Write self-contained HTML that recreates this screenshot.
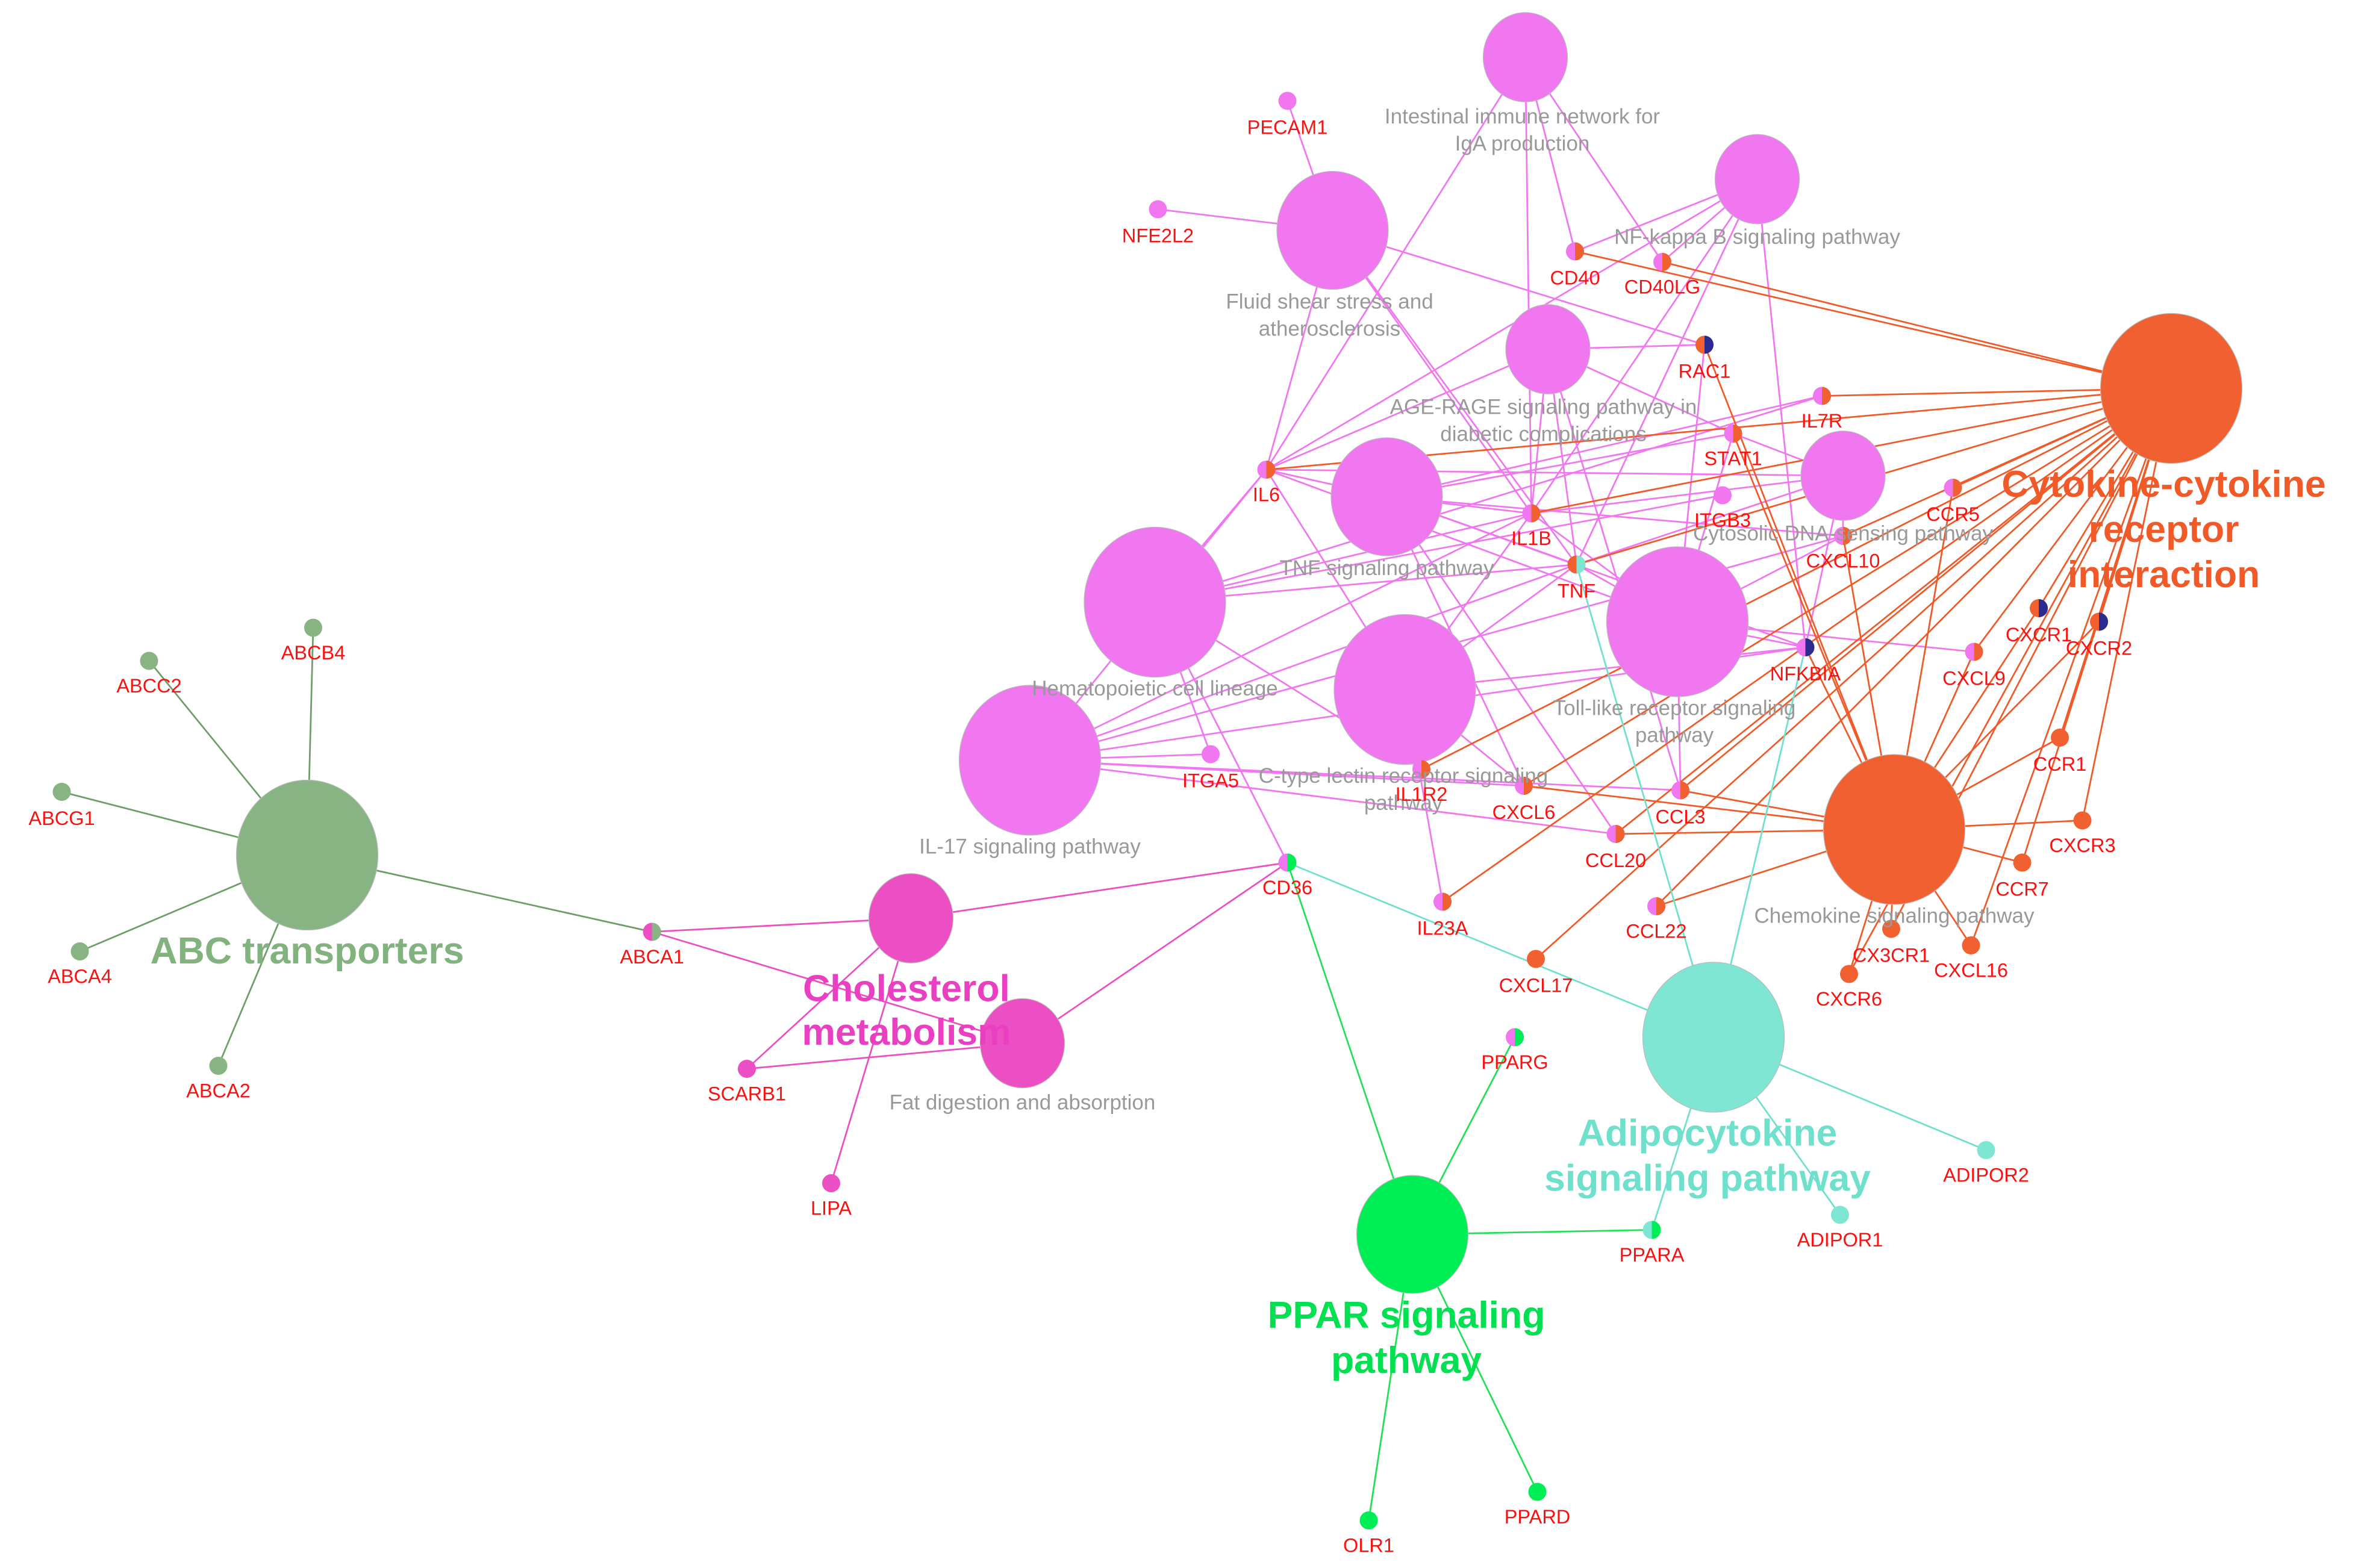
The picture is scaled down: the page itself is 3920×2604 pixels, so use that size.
<!DOCTYPE html>
<html><head><meta charset="utf-8">
<style>
html,body{margin:0;padding:0;background:#fff;}
svg{display:block;}
.g{font-family:"Liberation Sans",sans-serif;font-size:13px;fill:#ff1010;text-anchor:middle;}
.p{font-family:"Liberation Sans",sans-serif;font-size:14px;fill:#999;text-anchor:middle;}
.b{font-family:"Liberation Sans",sans-serif;font-size:25px;font-weight:bold;text-anchor:middle;}
</style></head>
<body>
<svg id="s" width="3920" height="2604" viewBox="0 0 1568 1041.6" xmlns="http://www.w3.org/2000/svg">
<g id="edges" fill="none" stroke-width="1.1"></g>
<g id="nodes"></g>
<g id="labels">
<text class="p" x="1011" y="82">Intestinal immune network for</text>
<text class="p" x="1011" y="100">IgA production</text>
<text class="p" x="1167" y="162">NF-kappa B signaling pathway</text>
<text class="p" x="883" y="205">Fluid shear stress and</text>
<text class="p" x="883" y="223">atherosclerosis</text>
<text class="p" x="1025" y="275">AGE-RAGE signaling pathway in</text>
<text class="p" x="1025" y="293">diabetic complications</text>
<text class="p" x="1224" y="359">Cytosolic DNA-sensing pathway</text>
<text class="p" x="921" y="382">TNF signaling pathway</text>
<text class="p" x="767" y="462">Hematopoietic cell lineage</text>
<text class="p" x="1112" y="475">Toll-like receptor signaling</text>
<text class="p" x="1112" y="493">pathway</text>
<text class="p" x="932" y="520">C-type lectin receptor signaling</text>
<text class="p" x="932" y="538">pathway</text>
<text class="p" x="684" y="567">IL-17 signaling pathway</text>
<text class="p" x="1258" y="613">Chemokine signaling pathway</text>
<text class="p" x="679" y="737">Fat digestion and absorption</text>
<text class="b" x="1437" y="330" fill="#f05a28">Cytokine-cytokine</text>
<text class="b" x="1437" y="360" fill="#f05a28">receptor</text>
<text class="b" x="1437" y="390" fill="#f05a28">interaction</text>
<text class="b" x="204" y="640" fill="#82b27e">ABC transporters</text>
<text class="b" x="602" y="665" fill="#e840c0">Cholesterol</text>
<text class="b" x="602" y="694" fill="#e840c0">metabolism</text>
<text class="b" x="1134" y="761" fill="#6fe0cc">Adipocytokine</text>
<text class="b" x="1134" y="791" fill="#6fe0cc">signaling pathway</text>
<text class="b" x="934" y="882" fill="#00e050">PPAR signaling</text>
<text class="b" x="934" y="912" fill="#00e050">pathway</text>
<text class="g" x="855" y="89">PECAM1</text>
<text class="g" x="769" y="161">NFE2L2</text>
<text class="g" x="1046" y="189">CD40</text>
<text class="g" x="1104" y="195">CD40LG</text>
<text class="g" x="1132" y="251">RAC1</text>
<text class="g" x="1210" y="284">IL7R</text>
<text class="g" x="1151" y="309">STAT1</text>
<text class="g" x="841" y="333">IL6</text>
<text class="g" x="1144" y="350">ITGB3</text>
<text class="g" x="1017" y="362">IL1B</text>
<text class="g" x="1297" y="346">CCR5</text>
<text class="g" x="1224" y="377">CXCL10</text>
<text class="g" x="1047" y="397">TNF</text>
<text class="g" x="1354" y="426">CXCR1</text>
<text class="g" x="1394" y="435">CXCR2</text>
<text class="g" x="1199" y="452">NFKBIA</text>
<text class="g" x="1311" y="455">CXCL9</text>
<text class="g" x="804" y="523">ITGA5</text>
<text class="g" x="944" y="532">IL1R2</text>
<text class="g" x="1012" y="544">CXCL6</text>
<text class="g" x="1116" y="547">CCL3</text>
<text class="g" x="1073" y="576">CCL20</text>
<text class="g" x="1368" y="512">CCR1</text>
<text class="g" x="1383" y="566">CXCR3</text>
<text class="g" x="1343" y="595">CCR7</text>
<text class="g" x="855" y="594">CD36</text>
<text class="g" x="958" y="621">IL23A</text>
<text class="g" x="1100" y="623">CCL22</text>
<text class="g" x="1020" y="659">CXCL17</text>
<text class="g" x="1256" y="639">CX3CR1</text>
<text class="g" x="1309" y="649">CXCL16</text>
<text class="g" x="1228" y="668">CXCR6</text>
<text class="g" x="433" y="640">ABCA1</text>
<text class="g" x="496" y="731">SCARB1</text>
<text class="g" x="552" y="807">LIPA</text>
<text class="g" x="1006" y="710">PPARG</text>
<text class="g" x="1097" y="838">PPARA</text>
<text class="g" x="1319" y="785">ADIPOR2</text>
<text class="g" x="1222" y="828">ADIPOR1</text>
<text class="g" x="1021" y="1012">PPARD</text>
<text class="g" x="909" y="1031">OLR1</text>
<text class="g" x="208" y="438">ABCB4</text>
<text class="g" x="99" y="460">ABCC2</text>
<text class="g" x="41" y="548">ABCG1</text>
<text class="g" x="53" y="653">ABCA4</text>
<text class="g" x="145" y="729">ABCA2</text>
</g>
</svg>
<script>
var P={IgA:[1013,38,28],NFK:[1167,119,28],FSS:[885,153,37],AGE:[1028,232,28],TNFp:[921,330,37],CYT:[1224,316,28],HEM:[767,400,47],TOLL:[1114,413,47],CTL:[933,458,47],IL17:[684,505,47],CCR:[1442,258,47],CHE:[1258,551,47],ABC:[204,568,47],CHO:[605,610,28],FAT:[679,693,28],ADI:[1138,689,47],PPAR:[938,820,37]};
var PC={IgA:'#f077f0',NFK:'#f077f0',FSS:'#f077f0',AGE:'#f077f0',TNFp:'#f077f0',CYT:'#f077f0',HEM:'#f077f0',TOLL:'#f077f0',CTL:'#f077f0',IL17:'#f077f0',CCR:'#f06030',CHE:'#f06030',ABC:'#88b383',CHO:'#ec4fc4',FAT:'#ec4fc4',ADI:'#7fe6d4',PPAR:'#00ee55'};
var G={PECAM1:[855,67],NFE2L2:[769,139],CD40:[1046,167],CD40LG:[1104,174],RAC1:[1132,229],IL7R:[1210,263],STAT1:[1151,288],IL6:[841,312],ITGB3:[1144,329],IL1B:[1017,341],CCR5:[1297,324],CXCL10:[1224,356],TNF:[1047,375],CXCR1:[1354,404],CXCR2:[1394,413],NFKBIA:[1199,430],CXCL9:[1311,433],ITGA5:[804,501],IL1R2:[944,511],CXCL6:[1012,522],CCL3:[1116,525],CCL20:[1073,554],CCR1:[1368,490],CXCR3:[1383,545],CCR7:[1343,573],CD36:[855,573],IL23A:[958,599],CCL22:[1100,602],CXCL17:[1020,637],CX3CR1:[1256,617],CXCL16:[1309,628],CXCR6:[1228,647],ABCA1:[433,619],SCARB1:[496,710],LIPA:[552,786],PPARG:[1006,689],PPARA:[1097,817],ADIPOR2:[1319,764],ADIPOR1:[1222,807],PPARD:[1021,991],OLR1:[909,1010],ABCB4:[208,417],ABCC2:[99,439],ABCG1:[41,526],ABCA4:[53,632],ABCA2:[145,708]};
var E={
IgA:['CD40','CD40LG','IL6','CXCR6'.slice(0,0)||'IL1B'],
NFK:['CD40','CD40LG','IL1B','TNF','NFKBIA','IL6'],
FSS:['PECAM1','NFE2L2','RAC1','IL1B','TNF','IL6'],
AGE:['IL6','IL1B','TNF','RAC1','STAT1','CCL3'],
TNFp:['IL6','IL1B','TNF','NFKBIA','CXCL10','CCL20','CXCL6','IL7R','STAT1'],
CYT:['IL6','IL1B','TNF','NFKBIA','CXCL10','STAT1'],
HEM:['IL6','IL1B','TNF','ITGB3','ITGA5','IL1R2','IL7R','CD36'],
TOLL:['IL6','IL1B','TNF','NFKBIA','CXCL10','CXCL9','CCL3','RAC1','STAT1'],
CTL:['IL6','IL1B','TNF','NFKBIA','IL23A','CXCL6'],
IL17:['IL6','IL1B','TNF','NFKBIA','CXCL10','CXCL6','CCL20','ITGA5','CCL3'],
CCR:['CD40','CD40LG','IL7R','IL6','IL1B','TNF','CCR5','CXCL10','CXCR1','CXCR2','CXCL9','IL1R2','CXCL6','CCL3','CCL20','CCR1','CXCR3','CCR7','IL23A','CCL22','CXCL17','CX3CR1','CXCL16','CXCR6'],
CHE:['RAC1','STAT1','CCR5','CXCL10','CXCR1','CXCR2','CXCL9','CXCL6','CCL3','CCL20','CCR1','CXCR3','CCR7','CCL22','CX3CR1','CXCL16','CXCR6','NFKBIA'],
ABC:['ABCB4','ABCC2','ABCG1','ABCA4','ABCA2','ABCA1'],
CHO:['ABCA1','SCARB1','LIPA','CD36'],
FAT:['ABCA1','SCARB1','CD36'],
ADI:['TNF','NFKBIA','CD36','PPARA','ADIPOR1','ADIPOR2'],
PPAR:['CD36','PPARG','PPARA','PPARD','OLR1']};
var GC={ABCB4:['#88b383'],ABCC2:['#88b383'],ABCG1:['#88b383'],ABCA4:['#88b383'],ABCA2:['#88b383'],ABCA1:['#ec4fc4','#88b383'],SCARB1:['#ec4fc4'],LIPA:['#ec4fc4'],PPARG:['#f077f0','#00ee55'],PPARA:['#7fe6d4','#00ee55'],PPARD:['#00ee55'],OLR1:['#00ee55'],ADIPOR1:['#7fe6d4'],ADIPOR2:['#7fe6d4'],CD36:['#f077f0','#00ee55'],PECAM1:['#f077f0'],NFE2L2:['#f077f0'],ITGB3:['#f077f0'],ITGA5:['#f077f0'],RAC1:['#f06030','#2a2a90'],CXCR1:['#f06030','#2a2a90'],CXCR2:['#f06030','#2a2a90'],TNF:['#f06030','#7fe6d4'],NFKBIA:['#f077f0','#2a2a90'],CCR1:['#f06030'],CXCR3:['#f06030'],CCR7:['#f06030'],CXCL17:['#f06030'],CX3CR1:['#f06030'],CXCL16:['#f06030'],CXCR6:['#f06030']};
var ns='http://www.w3.org/2000/svg',eg=document.getElementById('edges'),ng=document.getElementById('nodes');
for(var k in E){E[k].forEach(function(g){var a=P[k],b=G[g];if(!b)return;var l=document.createElementNS(ns,'line');l.setAttribute('x1',a[0]);l.setAttribute('y1',a[1]);l.setAttribute('x2',b[0]);l.setAttribute('y2',b[1]);var c=PC[k];if(k=='ABC')c='#6f9d6a';if(k=='CCR'||k=='CHE')c='#f05a28';if(k=='PPAR')c='#22e055';if(k=='ADI')c='#6fe0cc';l.setAttribute('stroke',c);eg.appendChild(l);});}
for(var k in P){var a=P[k],e=document.createElementNS(ns,'ellipse');e.setAttribute('cx',a[0]);e.setAttribute('cy',a[1]);e.setAttribute('rx',a[2]);e.setAttribute('ry',a[2]*1.06);e.setAttribute('fill',PC[k]);e.setAttribute('stroke','#bbb');e.setAttribute('stroke-width','0.5');ng.appendChild(e);}
for(var g in G){var b=G[g],c=GC[g]||['#f077f0','#f06030'],r=6;
 var c1=document.createElementNS(ns,'circle');c1.setAttribute('cx',b[0]);c1.setAttribute('cy',b[1]);c1.setAttribute('r',r);c1.setAttribute('fill',c[0]);ng.appendChild(c1);
 if(c.length>1){var p=document.createElementNS(ns,'path');p.setAttribute('d','M'+b[0]+' '+(b[1]-r)+' A'+r+' '+r+' 0 0 1 '+b[0]+' '+(b[1]+r)+' Z');p.setAttribute('fill',c[1]);ng.appendChild(p);}}
</script>
</body></html>
